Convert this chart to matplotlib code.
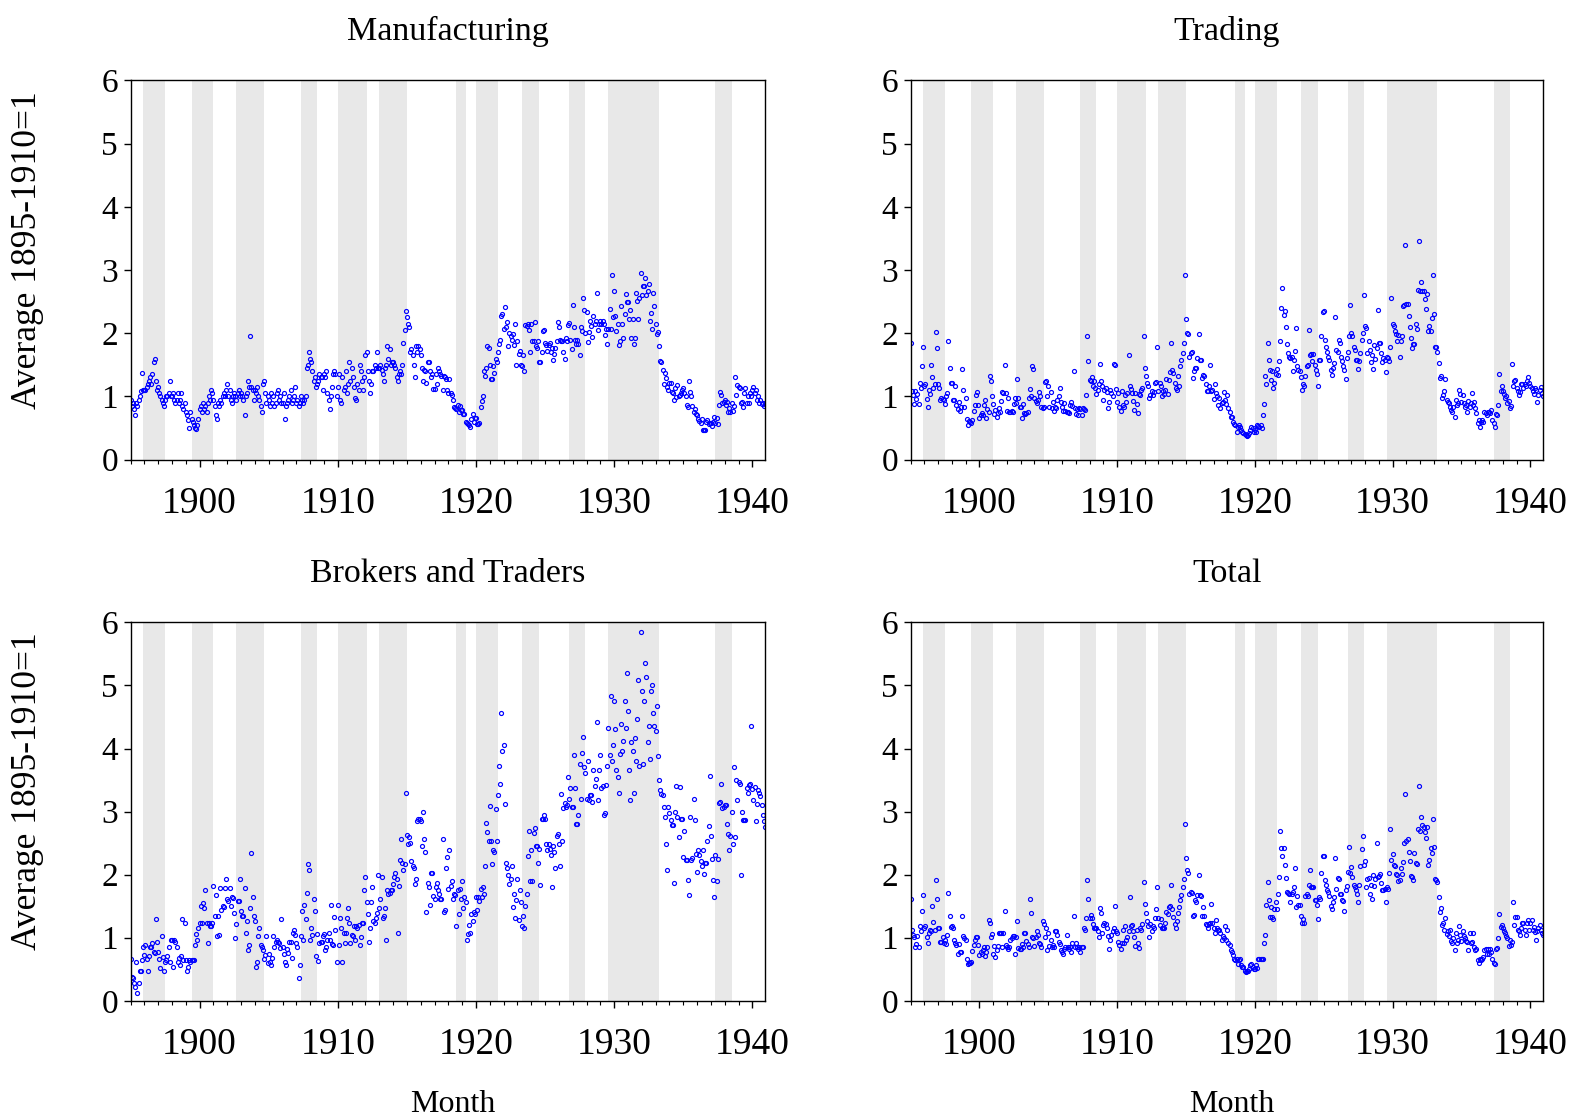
import numpy as np
import matplotlib.pyplot as plt

plt.rcParams['font.family'] = ['Liberation Serif', 'DejaVu Serif']

# monthly index values, Jan 1895 - Dec 1940, one row of 12 months per year
manufacturing = [
    [0.95, 0.85, 0.90, 0.80, 0.70, 0.90, 0.85, 0.95, 1.00, 1.08, 1.37, 1.10],  # 1895
    [1.10, 1.10, 1.15, 1.20, 1.25, 1.30, 1.20, 1.35, 1.55, 1.60, 1.25, 1.10],  # 1896
    [1.15, 1.05, 1.00, 0.95, 0.90, 0.85, 0.95, 1.00, 1.00, 1.05, 1.25, 1.00],  # 1897
    [1.00, 1.05, 0.95, 0.90, 0.95, 1.05, 0.90, 0.95, 1.05, 0.85, 0.80, 0.90],  # 1898
    [0.75, 0.70, 0.62, 0.50, 0.75, 0.65, 0.60, 0.55, 0.50, 0.48, 0.55, 0.65],  # 1899
    [0.80, 0.85, 0.75, 0.90, 0.80, 0.85, 0.75, 0.90, 1.00, 0.95, 1.10, 1.05],  # 1900
    [0.95, 0.85, 0.70, 0.65, 0.90, 0.85, 0.95, 0.90, 1.00, 1.05, 1.00, 1.10],  # 1901
    [1.20, 1.00, 1.10, 0.95, 0.90, 1.00, 1.05, 1.00, 0.95, 1.05, 1.10, 1.00],  # 1902
    [1.05, 1.00, 0.95, 0.70, 1.00, 1.05, 1.25, 1.15, 1.95, 1.15, 1.10, 0.95],  # 1903
    [1.10, 1.05, 1.15, 1.00, 0.95, 0.85, 0.75, 1.20, 1.25, 1.05, 0.90, 1.00],  # 1904
    [0.95, 0.85, 1.05, 0.90, 1.00, 0.85, 0.90, 1.05, 1.10, 0.95, 1.00, 0.90],  # 1905
    [0.90, 1.05, 0.65, 0.85, 0.90, 0.95, 1.00, 1.10, 0.90, 0.95, 1.00, 1.15],  # 1906
    [0.90, 0.95, 0.85, 0.90, 1.00, 0.95, 0.90, 0.95, 1.00, 1.45, 1.50, 1.70],  # 1907
    [1.60, 1.55, 1.40, 1.25, 1.30, 1.15, 1.20, 1.25, 1.35, 1.30, 1.30, 1.10],  # 1908
    [1.35, 1.30, 1.40, 1.05, 0.95, 0.80, 1.00, 1.15, 1.35, 1.40, 1.35, 1.00],  # 1909
    [1.15, 1.35, 0.95, 0.90, 1.30, 1.10, 1.15, 1.40, 1.05, 1.20, 1.55, 1.25],  # 1910
    [1.45, 1.30, 1.15, 0.98, 0.95, 1.20, 1.10, 1.50, 1.40, 1.25, 1.10, 1.30],  # 1911
    [1.65, 1.70, 1.40, 1.25, 1.05, 1.20, 1.40, 1.40, 1.50, 1.45, 1.70, 1.45],  # 1912
    [1.45, 1.50, 1.42, 1.35, 1.25, 1.45, 1.50, 1.80, 1.60, 1.75, 1.50, 1.55],  # 1913
    [1.55, 1.50, 1.45, 1.30, 1.25, 1.35, 1.40, 1.35, 1.50, 1.85, 2.05, 2.35],  # 1914
    [2.25, 2.15, 2.10, 1.70, 1.75, 1.65, 1.50, 1.30, 1.80, 1.70, 1.80, 1.75],  # 1915
    [1.65, 1.45, 1.25, 1.42, 1.40, 1.22, 1.55, 1.55, 1.40, 1.30, 1.35, 1.12],  # 1916
    [1.12, 1.35, 1.20, 1.45, 1.40, 1.35, 1.32, 1.10, 1.32, 1.30, 1.28, 1.10],  # 1917
    [1.05, 1.28, 1.05, 1.02, 0.95, 0.84, 0.82, 0.80, 0.87, 0.75, 0.85, 0.78],  # 1918
    [0.78, 0.72, 0.73, 0.60, 0.58, 0.57, 0.55, 0.51, 0.65, 0.72, 0.60, 0.66],  # 1919
    [0.66, 0.56, 0.57, 0.58, 0.84, 0.93, 1.00, 1.40, 1.32, 1.45, 1.80, 1.77],  # 1920
    [1.50, 1.28, 1.27, 1.48, 1.37, 1.60, 1.55, 1.70, 1.83, 1.90, 2.28, 2.30],  # 1921
    [2.07, 2.42, 2.10, 2.18, 1.80, 2.00, 1.95, 1.90, 1.98, 1.82, 2.14, 1.50],  # 1922
    [1.88, 1.67, 1.72, 1.50, 1.48, 1.65, 1.40, 2.13, 2.12, 2.15, 2.05, 1.70],  # 1923
    [2.15, 1.88, 1.88, 2.17, 1.80, 1.77, 1.88, 1.55, 1.55, 1.70, 2.03, 2.05],  # 1924
    [1.85, 1.82, 1.72, 1.82, 1.85, 1.71, 1.76, 1.57, 1.67, 1.76, 1.88, 2.18],  # 1925
    [2.10, 1.90, 1.87, 1.87, 1.70, 1.60, 1.92, 1.87, 2.13, 2.16, 1.90, 1.75],  # 1926
    [2.44, 2.10, 1.90, 1.83, 1.90, 1.83, 1.66, 2.10, 2.03, 2.56, 2.36, 2.00],  # 1927
    [2.34, 1.86, 2.02, 2.19, 2.11, 1.94, 2.27, 2.14, 2.20, 2.63, 2.05, 2.15],  # 1928
    [2.19, 2.14, 2.19, 2.14, 1.97, 2.06, 1.83, 2.07, 2.39, 2.07, 2.92, 2.25],  # 1929
    [2.67, 2.28, 2.03, 2.15, 1.82, 1.87, 2.43, 2.14, 1.92, 2.30, 2.62, 2.50],  # 1930
    [2.50, 2.22, 2.37, 1.93, 2.23, 1.83, 1.93, 2.63, 2.51, 2.23, 2.56, 2.95],  # 1931
    [2.60, 2.75, 2.75, 2.88, 2.61, 2.67, 2.78, 2.19, 2.32, 2.06, 2.63, 2.43],  # 1932
    [2.14, 1.99, 2.02, 1.80, 1.56, 1.54, 1.42, 1.20, 1.37, 1.29, 1.15, 1.10],  # 1933
    [1.22, 1.22, 1.07, 1.06, 0.94, 1.13, 0.99, 1.18, 1.00, 1.02, 1.05, 1.10],  # 1934
    [1.13, 1.06, 1.01, 0.87, 0.84, 1.25, 1.07, 1.00, 0.85, 0.76, 0.80, 0.72],  # 1935
    [0.71, 0.64, 0.61, 0.58, 0.64, 0.47, 0.47, 0.47, 0.60, 0.62, 0.57, 0.58],  # 1936
    [0.58, 0.54, 0.60, 0.67, 0.58, 0.66, 0.56, 0.86, 1.07, 1.02, 0.89, 0.92],  # 1937
    [0.94, 0.86, 0.92, 0.76, 0.81, 0.76, 0.89, 0.77, 0.85, 1.30, 1.02, 1.18],  # 1938
    [1.15, 1.13, 0.90, 0.92, 0.84, 1.05, 1.14, 0.89, 1.00, 0.90, 1.05, 1.00],  # 1939
    [1.10, 1.15, 1.05, 1.10, 0.95, 1.00, 0.90, 0.95, 0.88, 0.90, 0.85, 0.88],  # 1940
]

trading = [
    [1.85, 1.08, 1.02, 0.88, 1.08, 0.96, 1.04, 0.88, 1.21, 1.13, 1.48, 1.79],  # 1895
    [1.16, 1.19, 0.96, 0.84, 1.10, 1.04, 1.49, 1.30, 1.14, 1.20, 2.02, 1.77],  # 1896
    [1.19, 1.14, 0.95, 0.98, 0.96, 0.95, 0.88, 1.00, 1.05, 1.88, 1.45, 1.21],  # 1897
    [1.21, 0.95, 0.95, 1.16, 0.87, 0.80, 0.92, 0.77, 0.84, 1.43, 1.11, 0.83],  # 1898
    [0.98, 0.65, 0.55, 0.61, 0.59, 0.58, 0.62, 0.77, 0.86, 1.03, 1.07, 0.86],  # 1899
    [0.66, 0.71, 0.74, 0.70, 0.87, 0.95, 0.66, 0.80, 0.75, 1.32, 1.25, 1.00],  # 1900
    [0.88, 0.72, 0.79, 0.67, 0.74, 0.81, 0.76, 0.93, 1.07, 1.05, 1.49, 1.05],  # 1901
    [0.77, 0.98, 0.76, 0.76, 0.77, 0.76, 0.88, 0.97, 0.90, 1.28, 0.98, 0.84],  # 1902
    [0.84, 0.66, 0.88, 0.74, 0.72, 0.74, 0.75, 0.97, 1.12, 1.00, 1.48, 1.44],  # 1903
    [0.97, 0.93, 0.89, 0.95, 1.07, 1.00, 0.84, 0.81, 0.83, 1.23, 1.25, 1.00],  # 1904
    [1.16, 0.83, 1.07, 0.81, 0.91, 0.77, 0.83, 0.81, 0.95, 1.00, 1.14, 0.91],  # 1905
    [0.84, 0.77, 0.89, 0.77, 0.76, 0.76, 0.74, 0.87, 0.92, 0.85, 1.41, 0.81],  # 1906
    [0.72, 0.80, 0.70, 0.81, 0.80, 0.70, 0.81, 0.80, 0.78, 1.02, 1.95, 1.56],  # 1907
    [1.26, 1.25, 1.30, 1.16, 1.24, 1.14, 1.04, 1.11, 1.20, 1.51, 1.24, 1.16],  # 1908
    [0.95, 1.11, 1.13, 1.07, 0.81, 0.92, 1.11, 1.05, 1.00, 1.51, 1.50, 1.12],  # 1909
    [0.92, 1.05, 0.84, 0.77, 1.08, 0.87, 0.84, 1.03, 0.92, 1.05, 1.66, 1.16],  # 1910
    [1.12, 1.05, 0.93, 0.79, 1.05, 0.88, 0.74, 1.04, 1.03, 1.10, 1.13, 1.95],  # 1911
    [1.45, 1.33, 1.21, 1.16, 0.97, 1.03, 1.08, 1.03, 1.07, 1.21, 1.23, 1.79],  # 1912
    [1.09, 1.21, 1.17, 1.01, 1.09, 1.04, 1.11, 1.28, 1.04, 1.26, 1.39, 1.85],  # 1913
    [1.42, 1.37, 1.21, 1.13, 1.11, 1.32, 1.16, 1.48, 1.57, 1.69, 1.85, 2.92],  # 1914
    [2.22, 2.00, 1.98, 1.63, 1.69, 1.71, 1.29, 1.40, 1.45, 1.45, 1.61, 1.99],  # 1915
    [1.58, 1.57, 1.29, 1.34, 1.32, 1.19, 1.09, 1.08, 1.16, 1.50, 1.08, 1.11],  # 1916
    [0.96, 1.19, 1.05, 1.00, 0.87, 0.97, 0.81, 0.89, 0.92, 1.07, 0.95, 0.88],  # 1917
    [1.02, 0.81, 0.76, 0.68, 0.67, 0.60, 0.56, 0.55, 0.44, 0.52, 0.55, 0.51],  # 1918
    [0.47, 0.44, 0.42, 0.40, 0.39, 0.37, 0.39, 0.42, 0.47, 0.51, 0.50, 0.44],  # 1919
    [0.47, 0.44, 0.55, 0.54, 0.52, 0.55, 0.50, 0.71, 0.88, 1.33, 1.20, 1.85],  # 1920
    [1.58, 1.42, 1.26, 1.41, 1.13, 1.21, 1.36, 1.44, 1.34, 1.56, 1.88, 2.40],  # 1921
    [2.72, 2.29, 2.35, 2.10, 1.83, 1.69, 1.63, 1.61, 1.63, 1.40, 1.58, 1.72],  # 1922
    [2.08, 1.48, 1.42, 1.40, 1.30, 1.11, 1.19, 1.16, 1.32, 1.48, 1.50, 2.05],  # 1923
    [1.66, 1.67, 1.56, 1.67, 1.49, 1.42, 1.36, 1.17, 1.58, 1.58, 1.95, 2.34],  # 1924
    [2.35, 1.90, 1.79, 1.71, 1.63, 1.58, 1.42, 1.34, 1.45, 1.53, 2.26, 1.74],  # 1925
    [1.70, 1.90, 1.85, 1.62, 1.56, 1.48, 1.42, 1.28, 1.61, 1.71, 1.95, 2.45],  # 1926
    [2.00, 1.95, 1.79, 1.74, 1.58, 1.57, 1.44, 1.56, 1.69, 1.90, 2.00, 2.60],  # 1927
    [2.11, 2.08, 1.69, 1.87, 1.74, 1.54, 1.66, 1.44, 1.82, 1.60, 1.77, 2.36],  # 1928
    [1.85, 1.85, 1.69, 1.54, 1.61, 1.58, 1.39, 1.62, 1.61, 1.56, 1.79, 2.55],  # 1929
    [2.14, 2.11, 2.04, 1.98, 1.87, 1.97, 1.63, 1.87, 1.95, 2.43, 2.44, 3.39],  # 1930
    [2.47, 2.46, 2.28, 2.10, 1.92, 1.77, 1.83, 1.83, 2.14, 2.06, 2.68, 3.46],  # 1931
    [2.67, 2.81, 2.67, 2.66, 2.54, 2.39, 2.62, 2.03, 2.11, 2.04, 2.24, 2.92],  # 1932
    [2.30, 1.78, 1.79, 1.70, 1.53, 1.29, 1.33, 0.97, 1.03, 1.09, 1.28, 0.95],  # 1933
    [0.92, 0.89, 0.84, 0.79, 0.76, 0.84, 0.68, 0.95, 0.87, 0.90, 1.10, 1.04],  # 1934
    [0.91, 1.03, 0.89, 0.84, 0.87, 0.76, 0.93, 0.83, 0.90, 1.05, 0.87, 0.92],  # 1935
    [0.81, 0.74, 0.58, 0.63, 0.52, 0.60, 0.63, 0.60, 0.76, 0.74, 0.70, 0.76],  # 1936
    [0.76, 0.74, 0.79, 0.63, 0.58, 0.51, 0.72, 0.71, 0.87, 1.35, 1.08, 1.16],  # 1937
    [1.09, 1.04, 0.97, 1.00, 0.89, 0.93, 0.81, 0.85, 1.51, 1.17, 1.24, 1.26],  # 1938
    [1.13, 1.08, 1.02, 1.07, 1.19, 1.20, 1.13, 1.19, 1.16, 1.25, 1.30, 1.22],  # 1939
    [1.16, 1.13, 1.08, 1.04, 1.13, 1.10, 0.92, 1.03, 1.10, 1.15, 1.05, 1.00],  # 1940
]

brokers = [
    [0.66, 0.38, 0.36, 0.28, 0.22, 0.61, 0.13, 0.28, 0.48, 0.48, 0.65, 0.86],  # 1895
    [0.73, 0.89, 0.67, 0.48, 0.71, 0.86, 0.86, 0.91, 0.77, 0.76, 1.30, 0.94],  # 1896
    [0.77, 0.67, 0.52, 1.03, 0.70, 0.48, 0.62, 0.65, 0.71, 0.86, 0.62, 0.97],  # 1897
    [0.97, 0.53, 0.97, 0.94, 0.86, 0.62, 0.68, 0.57, 0.71, 1.30, 0.65, 1.23],  # 1898
    [0.65, 0.48, 0.53, 0.65, 0.62, 0.65, 0.64, 0.65, 0.89, 1.06, 0.97, 1.15],  # 1899
    [1.23, 1.50, 1.24, 1.55, 1.47, 1.76, 1.23, 0.92, 1.23, 1.19, 1.18, 1.23],  # 1900
    [1.82, 1.34, 1.67, 1.02, 1.35, 1.05, 1.79, 1.44, 1.50, 1.48, 1.79, 1.93],  # 1901
    [1.61, 1.59, 1.79, 1.50, 1.65, 1.63, 1.39, 1.00, 1.21, 1.58, 1.59, 1.93],  # 1902
    [1.42, 1.35, 1.35, 1.79, 1.08, 1.26, 0.80, 0.89, 1.47, 2.35, 1.65, 1.35],  # 1903
    [1.26, 0.53, 0.61, 1.03, 1.15, 0.89, 0.86, 0.80, 0.66, 0.73, 1.03, 0.60],  # 1904
    [0.75, 0.62, 0.57, 0.68, 1.03, 0.85, 0.94, 0.97, 0.94, 0.91, 0.83, 1.30],  # 1905
    [0.86, 0.74, 0.62, 0.57, 0.82, 0.76, 0.94, 0.94, 0.68, 1.07, 1.12, 1.05],  # 1906
    [0.92, 0.86, 0.36, 0.57, 1.03, 1.42, 0.97, 1.52, 1.30, 1.71, 2.17, 2.08],  # 1907
    [0.97, 1.15, 1.05, 1.61, 1.42, 0.71, 1.06, 0.63, 0.91, 0.94, 0.93, 1.02],  # 1908
    [1.06, 0.81, 0.85, 0.97, 1.08, 0.97, 1.52, 0.90, 0.89, 1.33, 1.13, 0.62],  # 1909
    [1.52, 0.88, 1.32, 1.15, 0.62, 1.08, 0.91, 1.08, 1.32, 1.47, 1.23, 0.91],  # 1910
    [1.05, 1.03, 1.18, 0.96, 1.18, 1.15, 1.20, 0.89, 1.01, 1.23, 1.24, 1.76],  # 1911
    [1.96, 1.56, 1.38, 0.94, 1.15, 1.56, 1.81, 1.26, 1.23, 1.31, 1.40, 2.00],  # 1912
    [1.47, 1.61, 1.96, 1.32, 1.34, 1.47, 0.96, 1.76, 1.70, 1.71, 1.76, 1.76],  # 1913
    [1.85, 1.97, 2.02, 1.93, 1.08, 1.82, 2.24, 2.56, 2.19, 2.07, 2.17, 3.29],  # 1914
    [2.63, 2.48, 2.60, 2.50, 2.22, 2.13, 2.10, 1.85, 1.93, 2.85, 2.88, 2.89],  # 1915
    [2.85, 2.45, 2.99, 2.57, 2.36, 1.41, 1.86, 1.81, 1.52, 2.02, 2.02, 1.66],  # 1916
    [1.61, 1.81, 1.87, 1.76, 1.69, 1.61, 1.61, 2.57, 1.41, 1.44, 2.10, 2.28],  # 1917
    [1.78, 2.39, 1.82, 1.90, 1.61, 1.70, 1.68, 1.18, 1.76, 1.38, 1.78, 1.61],  # 1918
    [1.90, 1.47, 1.64, 1.56, 0.96, 1.06, 1.20, 1.08, 1.38, 1.26, 1.41, 1.38],  # 1919
    [1.64, 1.44, 1.64, 1.59, 1.78, 1.64, 1.81, 1.70, 2.14, 2.82, 2.68, 2.54],  # 1920
    [3.09, 2.54, 2.17, 2.39, 2.36, 3.04, 2.54, 3.26, 3.72, 3.44, 4.57, 3.96],  # 1921
    [4.05, 3.12, 2.19, 2.10, 2.00, 1.85, 1.93, 2.14, 1.49, 1.70, 1.32, 1.60],  # 1922
    [1.93, 1.28, 1.76, 1.56, 1.18, 1.34, 1.15, 1.50, 1.70, 2.29, 2.69, 1.90],  # 1923
    [2.39, 1.90, 2.66, 2.74, 2.45, 2.45, 2.19, 2.40, 1.83, 2.88, 2.89, 2.94],  # 1924
    [2.88, 2.48, 2.39, 2.48, 2.41, 2.31, 1.81, 2.45, 2.36, 2.11, 2.62, 2.65],  # 1925
    [2.48, 2.13, 3.28, 2.53, 3.06, 3.14, 3.07, 3.10, 3.55, 3.20, 3.38, 3.08],  # 1926
    [3.08, 3.90, 3.38, 2.80, 2.80, 2.94, 3.75, 3.20, 3.93, 4.19, 3.70, 3.61],  # 1927
    [3.20, 3.81, 3.19, 3.26, 3.26, 3.15, 3.66, 3.40, 3.52, 4.42, 3.18, 3.66],  # 1928
    [3.90, 3.38, 3.40, 2.94, 2.97, 3.42, 3.72, 4.33, 3.90, 4.83, 3.81, 4.05],  # 1929
    [4.76, 4.31, 3.66, 3.55, 3.29, 3.91, 4.39, 3.96, 4.12, 4.76, 4.33, 5.20],  # 1930
    [4.60, 3.66, 3.18, 4.10, 3.96, 3.29, 4.16, 3.80, 4.47, 5.09, 3.72, 5.84],  # 1931
    [4.91, 3.75, 4.76, 5.36, 5.14, 4.10, 4.35, 3.84, 4.91, 5.00, 4.56, 4.35],  # 1932
    [4.28, 4.68, 3.88, 3.50, 3.34, 3.28, 3.26, 3.08, 2.91, 2.48, 2.07, 3.08],  # 1933
    [2.98, 2.87, 2.78, 2.78, 1.86, 3.00, 3.40, 2.91, 2.60, 3.39, 2.89, 2.89],  # 1934
    [2.28, 2.69, 2.23, 2.24, 1.91, 1.67, 2.91, 2.24, 2.27, 3.20, 2.86, 2.33],  # 1935
    [2.04, 2.39, 2.31, 2.22, 2.13, 2.39, 2.01, 2.18, 2.18, 2.53, 2.77, 3.57],  # 1936
    [2.62, 2.25, 1.92, 1.64, 2.31, 1.90, 2.25, 3.14, 3.15, 3.43, 3.06, 3.07],  # 1937
    [3.10, 3.11, 2.80, 2.65, 2.39, 2.62, 2.99, 2.48, 3.70, 2.59, 3.50, 3.18],  # 1938
    [3.47, 3.44, 1.99, 2.99, 2.86, 2.87, 2.87, 3.38, 3.29, 3.42, 3.44, 4.35],  # 1939
    [3.36, 3.18, 3.39, 2.85, 3.12, 3.35, 3.30, 3.25, 3.10, 2.95, 2.85, 2.75],  # 1940
]

total = [
    [1.61, 1.13, 1.04, 1.01, 0.86, 0.90, 1.03, 0.86, 1.19, 1.11, 1.42, 1.68],  # 1895
    [1.15, 1.18, 1.01, 0.92, 1.08, 1.13, 1.11, 1.50, 1.25, 1.12, 1.92, 1.61],  # 1896
    [1.15, 1.15, 0.94, 0.94, 1.01, 0.92, 0.97, 0.90, 1.04, 1.71, 1.34, 1.17],  # 1897
    [1.18, 1.15, 0.97, 0.91, 0.89, 0.75, 0.90, 0.78, 0.78, 1.34, 1.02, 0.99],  # 1898
    [0.97, 0.67, 0.58, 0.60, 0.60, 0.62, 0.79, 0.88, 0.97, 1.01, 1.01, 0.88],  # 1899
    [0.72, 0.78, 0.74, 0.81, 0.86, 0.71, 0.78, 0.86, 1.28, 1.23, 1.01, 1.06],  # 1900
    [0.75, 0.87, 0.70, 0.81, 0.87, 1.07, 1.08, 1.08, 0.86, 1.08, 1.42, 0.88],  # 1901
    [0.86, 0.82, 0.85, 0.96, 0.99, 1.02, 1.03, 0.74, 1.01, 1.26, 0.83, 0.82],  # 1902
    [0.82, 0.90, 0.85, 1.07, 1.08, 0.95, 0.90, 0.85, 1.62, 1.40, 1.01, 0.99],  # 1903
    [0.87, 1.01, 1.11, 1.04, 0.91, 0.90, 0.86, 1.26, 1.22, 1.01, 1.15, 0.80],  # 1904
    [1.07, 0.87, 0.96, 0.86, 0.89, 0.85, 1.11, 1.11, 1.04, 0.94, 0.90, 0.80],  # 1905
    [0.78, 0.75, 0.82, 0.85, 1.04, 0.86, 0.82, 0.86, 0.78, 0.91, 1.34, 0.86],  # 1906
    [0.91, 0.86, 0.82, 0.86, 0.78, 0.86, 0.86, 1.15, 1.12, 1.32, 1.92, 1.61],  # 1907
    [1.32, 1.36, 1.31, 1.22, 1.15, 1.16, 1.15, 1.10, 1.01, 1.47, 1.39, 1.07],  # 1908
    [1.20, 1.23, 1.22, 1.15, 1.03, 0.82, 0.96, 1.05, 1.10, 1.15, 1.50, 1.11],  # 1909
    [1.07, 0.94, 0.88, 0.82, 0.91, 1.13, 0.92, 1.18, 0.96, 1.01, 1.11, 1.65],  # 1910
    [1.19, 1.20, 1.11, 1.01, 0.87, 1.12, 0.92, 0.83, 1.16, 1.13, 1.22, 1.89],  # 1911
    [1.53, 1.39, 1.27, 1.19, 1.01, 1.22, 1.10, 1.18, 1.16, 1.31, 1.45, 1.80],  # 1912
    [1.31, 1.20, 1.29, 1.15, 1.15, 1.15, 1.23, 1.41, 1.38, 1.49, 1.50, 1.84],  # 1913
    [1.45, 1.33, 1.22, 1.16, 1.27, 1.40, 1.49, 1.60, 1.67, 1.81, 1.93, 2.81],  # 1914
    [2.26, 2.07, 2.03, 1.69, 1.73, 1.71, 1.35, 1.36, 1.60, 1.56, 1.68, 1.99],  # 1915
    [1.68, 1.66, 1.35, 1.48, 1.35, 1.22, 1.20, 1.16, 1.22, 1.24, 1.53, 1.23],  # 1916
    [1.16, 1.07, 1.28, 1.16, 1.13, 1.13, 1.07, 0.96, 1.03, 0.99, 1.18, 0.96],  # 1917
    [1.13, 0.91, 0.88, 0.81, 0.78, 0.73, 0.67, 0.65, 0.67, 0.58, 0.64, 0.67],  # 1918
    [0.57, 0.53, 0.54, 0.48, 0.45, 0.47, 0.47, 0.50, 0.57, 0.59, 0.54, 0.50],  # 1919
    [0.50, 0.57, 0.52, 0.67, 0.67, 0.67, 0.67, 0.67, 0.92, 1.05, 1.52, 1.89],  # 1920
    [1.60, 1.33, 1.49, 1.33, 1.30, 1.45, 1.56, 1.46, 1.69, 1.97, 2.69, 2.42],  # 1921
    [2.30, 2.43, 2.15, 1.94, 1.73, 1.71, 1.69, 1.56, 1.69, 1.73, 1.80, 2.11],  # 1922
    [1.48, 1.66, 1.52, 1.52, 1.35, 1.23, 1.29, 1.23, 1.66, 1.69, 1.66, 1.83],  # 1923
    [2.08, 1.80, 1.80, 1.80, 1.60, 1.60, 1.52, 1.30, 1.64, 1.62, 2.02, 2.30],  # 1924
    [2.29, 1.91, 1.84, 1.76, 1.73, 1.66, 1.50, 1.45, 1.57, 1.65, 2.27, 1.78],  # 1925
    [1.94, 1.93, 1.69, 1.70, 1.60, 1.58, 1.42, 1.75, 1.82, 2.05, 2.44, 2.02],  # 1926
    [2.12, 1.96, 1.84, 1.81, 1.76, 1.70, 1.56, 1.84, 2.13, 2.40, 2.61, 2.16],  # 1927
    [2.22, 1.81, 1.93, 1.94, 1.70, 1.84, 1.62, 1.99, 1.82, 1.93, 2.51, 1.96],  # 1928
    [1.98, 2.01, 1.87, 1.75, 1.76, 1.77, 1.56, 1.81, 1.78, 2.02, 2.72, 2.23],  # 1929
    [2.33, 2.16, 2.14, 2.01, 1.99, 1.90, 1.91, 2.10, 2.01, 2.20, 2.50, 3.28],  # 1930
    [2.54, 2.57, 2.36, 2.22, 1.98, 1.96, 1.92, 2.34, 2.18, 2.17, 2.72, 3.41],  # 1931
    [2.70, 2.92, 2.79, 2.75, 2.67, 2.58, 2.76, 2.15, 2.24, 2.43, 2.35, 2.88],  # 1932
    [2.44, 1.93, 1.92, 1.89, 1.64, 1.41, 1.47, 1.20, 1.23, 1.12, 1.31, 1.06],  # 1933
    [1.10, 1.02, 1.12, 0.95, 0.91, 0.99, 0.80, 1.08, 0.92, 0.97, 1.18, 1.04],  # 1934
    [0.95, 1.10, 1.02, 0.99, 0.95, 0.94, 0.81, 1.08, 0.91, 0.94, 1.07, 0.86],  # 1935
    [0.81, 0.82, 0.65, 0.60, 0.66, 0.64, 0.67, 0.70, 0.81, 0.82, 0.74, 0.82],  # 1936
    [0.74, 0.82, 0.78, 0.67, 0.60, 0.58, 0.82, 0.83, 1.00, 1.37, 1.17, 1.20],  # 1937
    [1.15, 1.11, 1.07, 1.02, 0.99, 0.87, 0.96, 0.88, 0.93, 1.56, 1.20, 1.33],  # 1938
    [1.33, 1.12, 1.11, 1.04, 1.15, 1.23, 1.23, 1.13, 1.05, 1.23, 1.28, 1.13],  # 1939
    [1.23, 1.28, 1.13, 1.17, 1.09, 0.97, 1.10, 1.15, 1.20, 1.12, 1.08, 1.05],  # 1940
]

# NBER business cycle peaks and troughs (year, month)
recessions = [((1895, 12), (1897, 6)), ((1899, 6), (1900, 12)), ((1902, 9), (1904, 8)),
              ((1907, 5), (1908, 6)), ((1910, 1), (1912, 1)), ((1913, 1), (1914, 12)),
              ((1918, 8), (1919, 3)), ((1920, 1), (1921, 7)), ((1923, 5), (1924, 7)),
              ((1926, 10), (1927, 11)), ((1929, 8), (1933, 3)), ((1937, 5), (1938, 6))]

titles = ["Manufacturing", "Trading", "Brokers and Traders", "Total"]
series = [manufacturing, trading, brokers, total]


def month_to_year(ym):
    return ym[0] + (ym[1] - 1) / 12.0


W, H = 1574, 1118
fig = plt.figure(figsize=(W / 100, H / 100), dpi=100)
fig.set_facecolor('white')

# axes boxes in pixels: left, top, right, bottom
boxes = [(130.5, 80.3, 765, 459.7), (910.5, 80.3, 1543, 459.7),
         (130.5, 622.4, 765, 1000.8), (910.5, 622.4, 1543, 1000.8)]

for i in range(4):
    x0, y0, x1, y1 = boxes[i]
    ax = fig.add_axes([x0 / W, 1 - y1 / H, (x1 - x0) / W, (y1 - y0) / H])
    vals = np.array(series[i]).ravel()
    t = 1895 + np.arange(len(vals)) / 12.0

    for peak, trough in recessions:
        ax.axvspan(month_to_year(peak), month_to_year(trough) + 1 / 12.0,
                   color='#e8e8e8', lw=0, zorder=0)

    ax.plot(t, vals, 'o', mfc='none', mec='#0000ff', ms=2.9, mew=0.85, zorder=2)

    ax.set_xlim(1895, 1895 + (len(vals) - 1) / 12.0)
    ax.set_ylim(0, 6)
    ax.set_xticks([1900, 1910, 1920, 1930, 1940])
    ax.set_xticks(range(1895, 1941), minor=True)
    ax.set_yticks(range(0, 7))
    ax.tick_params(axis='y', which='major', direction='out', length=5, width=1,
                   labelsize=24, pad=4)
    ax.tick_params(axis='x', which='major', direction='out', length=5, width=1,
                   labelsize=27, pad=14)
    ax.tick_params(axis='x', which='minor', direction='out', length=3, width=0.8)
    for s in ax.spines.values():
        s.set_linewidth(1.0)
    ax.set_title(titles[i], fontsize=24.5, pad=29)

    if i in (0, 2):
        fig.text(28 / W, 1 - ((y0 + y1) / 2 - 20) / H, "Average 1895-1910=1", rotation=90,
                 ha='center', va='center', fontsize=25.5)
    if i in (2, 3):
        fig.text(((x0 + x1) / 2 + 5) / W, 1 - 1104 / H, "Month",
                 ha='center', va='center', fontsize=23)

fig.savefig("out.png", dpi=100)
